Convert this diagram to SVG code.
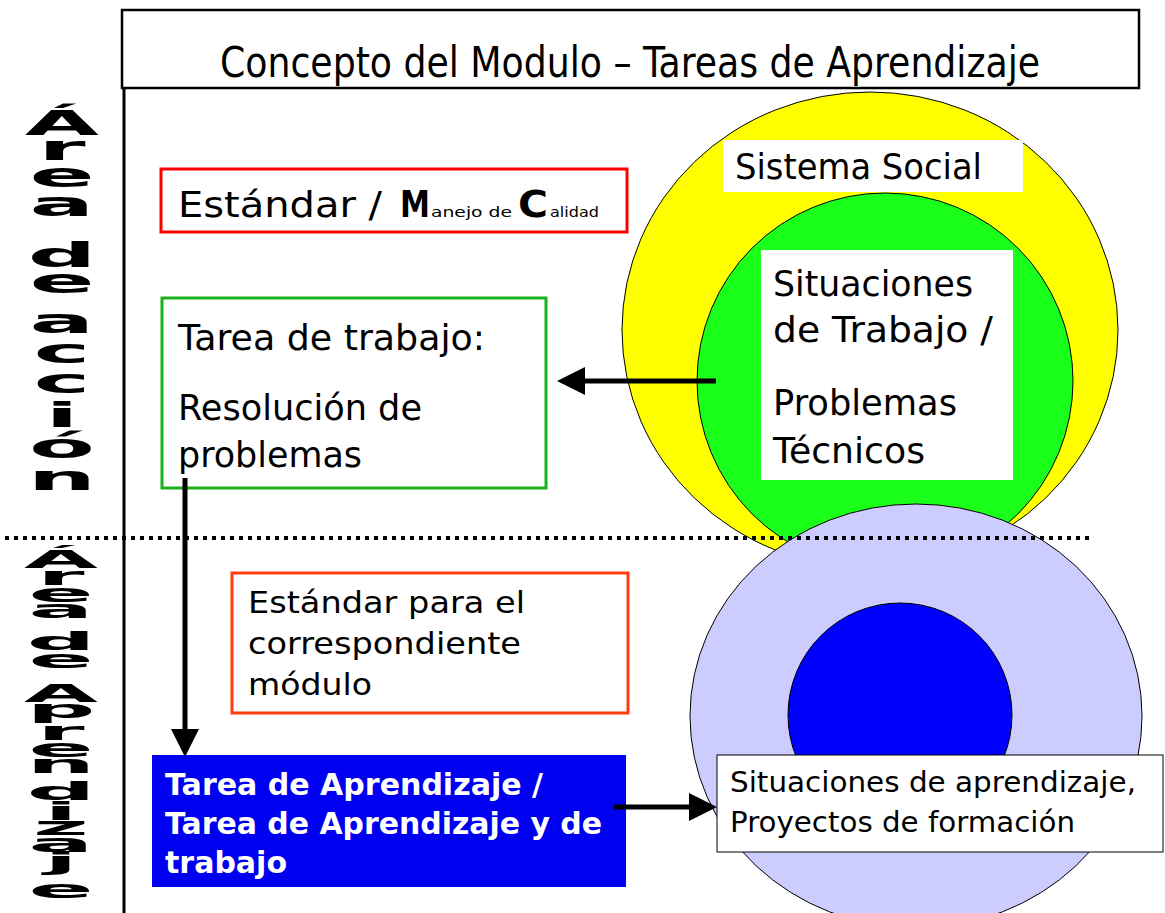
<svg xmlns="http://www.w3.org/2000/svg" width="1165" height="913" viewBox="0 0 1165 913">
<defs>
<style>
.t{font-family:"DejaVu Sans",Verdana,sans-serif;fill:#000}
.tc{font-family:"DejaVu Sans Condensed","DejaVu Sans",sans-serif;fill:#000}
.tb{font-family:"DejaVu Sans",Verdana,sans-serif;font-weight:bold;fill:#fff}
.v{font-family:"DejaVu Sans",Verdana,sans-serif;font-weight:bold;font-size:40px;fill:#000;text-anchor:middle}
.circ{stroke:#000;stroke-width:1}
.conn{stroke:#000;stroke-width:5;fill:none}
</style>
<marker id="ah" viewBox="0 0 28 28" refX="0" refY="14" markerWidth="28" markerHeight="28" markerUnits="userSpaceOnUse" orient="auto">
<path d="M0,0 L28,14 L0,28 Z" fill="#000"/>
</marker>
</defs>
<rect width="1165" height="913" fill="#fff"/>

<g id="circles">
<ellipse id="sistema-social-circle" class="circ" cx="870" cy="330" rx="248" ry="238" fill="#ffff00"/>
<circle id="trabajo-circle" class="circ" cx="885" cy="381" r="188" fill="#19ff19"/>
<ellipse id="aprendizaje-circle" class="circ" cx="916" cy="716" rx="226" ry="212" fill="#ccccff"/>
<circle id="inner-blue-circle" class="circ" cx="900" cy="715" r="112" fill="#0000ff"/>
</g>

<g id="title">
<rect x="122" y="10" width="1017" height="78" fill="#fff" stroke="#000" stroke-width="2.5"/>
<text class="tc" x="220" y="77" font-size="42" textLength="820" lengthAdjust="spacingAndGlyphs">Concepto del Modulo – Tareas de Aprendizaje</text>
</g>

<g id="frame">
<line x1="124" y1="88" x2="124" y2="913" stroke="#000" stroke-width="3"/>
</g>

<g id="label-area-accion">
<text class="v" transform="translate(62,135) scale(2.4,0.86)">Á</text>
<text class="v" transform="translate(62,160) scale(2.4,0.86)">r</text>
<text class="v" transform="translate(62,187) scale(2.4,0.86)">e</text>
<text class="v" transform="translate(62,216) scale(2.4,0.86)">a</text>
<text class="v" transform="translate(62,267) scale(2.4,0.86)">d</text>
<text class="v" transform="translate(62,293) scale(2.4,0.86)">e</text>
<text class="v" transform="translate(62,333) scale(2.4,0.86)">a</text>
<text class="v" transform="translate(62,363) scale(2.4,0.86)">c</text>
<text class="v" transform="translate(62,393) scale(2.4,0.86)">c</text>
<text class="v" transform="translate(62,427) scale(2.4,0.86)">i</text>
<text class="v" transform="translate(62,458) scale(2.4,0.86)">ó</text>
<text class="v" transform="translate(62,490) scale(2.4,0.86)">n</text>
</g>

<g id="label-area-aprendizaje">
<text class="v" transform="translate(61,568) scale(2.4,0.62)">Á</text>
<text class="v" transform="translate(61,585) scale(2.4,0.62)">r</text>
<text class="v" transform="translate(61,602) scale(2.4,0.62)">e</text>
<text class="v" transform="translate(61,618) scale(2.4,0.62)">a</text>
<text class="v" transform="translate(61,650) scale(2.4,0.62)">d</text>
<text class="v" transform="translate(61,668) scale(2.4,0.62)">e</text>
<text class="v" transform="translate(61,702) scale(2.4,0.62)">A</text>
<text class="v" transform="translate(61,718) scale(2.4,0.62)">p</text>
<text class="v" transform="translate(61,740) scale(2.4,0.62)">r</text>
<text class="v" transform="translate(61,757) scale(2.4,0.62)">e</text>
<text class="v" transform="translate(61,773) scale(2.4,0.62)">n</text>
<text class="v" transform="translate(61,800) scale(2.4,0.62)">d</text>
<text class="v" transform="translate(61,820) scale(2.4,0.62)">i</text>
<text class="v" transform="translate(61,835) scale(2.4,0.62)">z</text>
<text class="v" transform="translate(61,852) scale(2.4,0.62)">a</text>
<text class="v" transform="translate(61,870) scale(2.4,0.62)">j</text>
<text class="v" transform="translate(61,898) scale(2.4,0.62)">e</text>
</g>

<g id="sistema-social">
<rect x="723" y="140" width="300" height="52" fill="#fff"/>
<text class="t" x="735" y="179" font-size="35" textLength="247" lengthAdjust="spacingAndGlyphs">Sistema Social</text>
</g>

<g id="situaciones-trabajo">
<rect x="761" y="250" width="252" height="230" fill="#fff"/>
<text class="t" x="773" y="296" font-size="36" textLength="200" lengthAdjust="spacingAndGlyphs">Situaciones</text>
<text class="t" x="773" y="342" font-size="36" textLength="220" lengthAdjust="spacingAndGlyphs">de Trabajo /</text>
<text class="t" x="773" y="415" font-size="36" textLength="184" lengthAdjust="spacingAndGlyphs">Problemas</text>
<text class="t" x="773" y="463" font-size="36" textLength="152" lengthAdjust="spacingAndGlyphs">Técnicos</text>
</g>

<g id="estandar-calidad">
<rect x="161" y="169" width="466" height="63" fill="#fff" stroke="#ff0000" stroke-width="3"/>
<text class="t" x="178" y="217" font-size="36" textLength="204" lengthAdjust="spacingAndGlyphs">Estándar /</text>
<text class="t" x="400" y="217" font-size="37" font-weight="bold" textLength="30" lengthAdjust="spacingAndGlyphs">M</text>
<text class="t" x="431" y="217" font-size="14" textLength="81" lengthAdjust="spacingAndGlyphs">anejo de</text>
<text class="t" x="518" y="217" font-size="37" font-weight="bold" textLength="30" lengthAdjust="spacingAndGlyphs">C</text>
<text class="t" x="550" y="217" font-size="14" textLength="49" lengthAdjust="spacingAndGlyphs">alidad</text>
</g>

<g id="tarea-trabajo">
<rect x="162" y="298" width="384" height="190" fill="#fff" stroke="#19b219" stroke-width="3"/>
<text class="t" x="178" y="350" font-size="36" textLength="307" lengthAdjust="spacingAndGlyphs">Tarea de trabajo:</text>
<text class="t" x="178" y="420" font-size="36" textLength="244" lengthAdjust="spacingAndGlyphs">Resolución de</text>
<text class="t" x="178" y="467" font-size="36" textLength="184" lengthAdjust="spacingAndGlyphs">problemas</text>
</g>

<g id="estandar-modulo">
<rect x="232" y="573" width="396" height="140" fill="#fff" stroke="#ff3c10" stroke-width="3"/>
<text class="t" x="248" y="613" font-size="31" textLength="277" lengthAdjust="spacingAndGlyphs">Estándar para el</text>
<text class="t" x="248" y="654" font-size="31" textLength="273" lengthAdjust="spacingAndGlyphs">correspondiente</text>
<text class="t" x="248" y="695" font-size="31" textLength="124" lengthAdjust="spacingAndGlyphs">módulo</text>
</g>

<g id="tarea-aprendizaje">
<rect x="152" y="755" width="474" height="132" fill="#0000f0"/>
<text class="tb" x="165" y="795" font-size="31" textLength="378" lengthAdjust="spacingAndGlyphs">Tarea de Aprendizaje /</text>
<text class="tb" x="165" y="834" font-size="31" textLength="437" lengthAdjust="spacingAndGlyphs">Tarea de Aprendizaje y de</text>
<text class="tb" x="165" y="873" font-size="31" textLength="122" lengthAdjust="spacingAndGlyphs">trabajo</text>
</g>

<g id="situaciones-aprendizaje">
<rect x="717" y="755" width="446" height="97" fill="#fff" stroke="#000" stroke-width="1"/>
<text class="t" x="730" y="792" font-size="28" textLength="406" lengthAdjust="spacingAndGlyphs">Situaciones de aprendizaje,</text>
<text class="t" x="730" y="832" font-size="28" textLength="345" lengthAdjust="spacingAndGlyphs">Proyectos de formación</text>
</g>

<g id="connectors">
<line x1="5" y1="538" x2="1093" y2="538" stroke="#000" stroke-width="4" stroke-dasharray="4 5"/>
<line class="conn" x1="716" y1="381" x2="585" y2="381" marker-end="url(#ah)"/>
<line class="conn" x1="185" y1="478" x2="185" y2="729" marker-end="url(#ah)"/>
<line class="conn" x1="614" y1="807" x2="689" y2="807" marker-end="url(#ah)"/>
</g>
</svg>
